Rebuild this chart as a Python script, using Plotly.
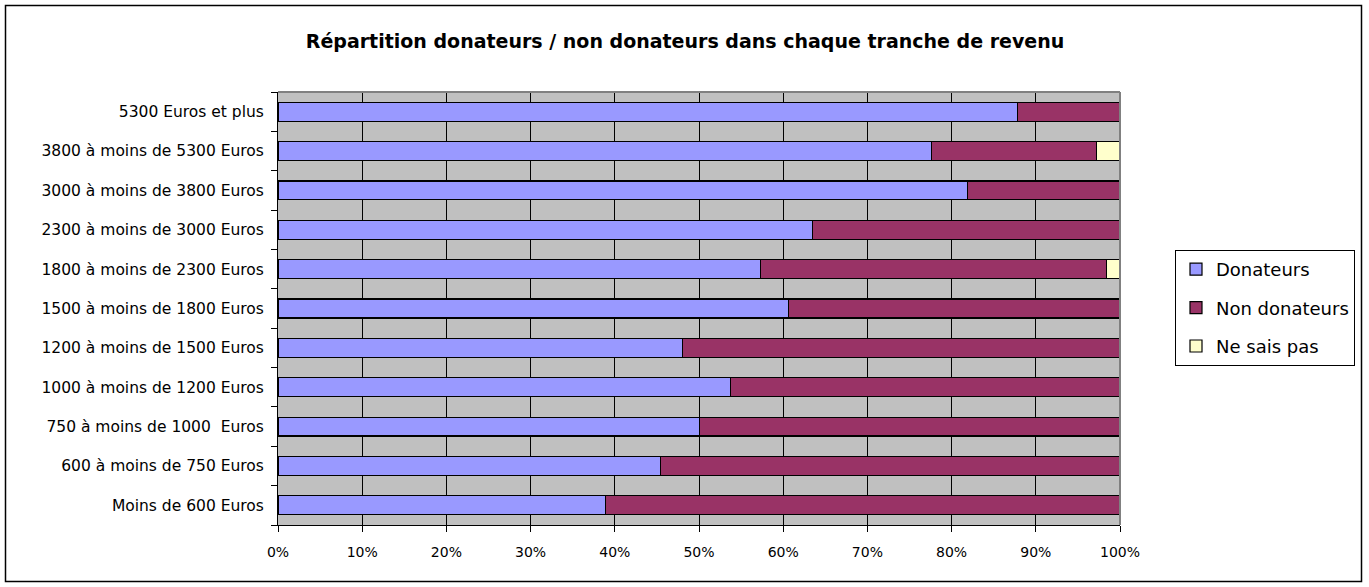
import plotly.graph_objects as go

categories = [
    "Moins de 600 Euros",
    "600 à moins de 750 Euros",
    "750 à moins de 1000  Euros",
    "1000 à moins de 1200 Euros",
    "1200 à moins de 1500 Euros",
    "1500 à moins de 1800 Euros",
    "1800 à moins de 2300 Euros",
    "2300 à moins de 3000 Euros",
    "3000 à moins de 3800 Euros",
    "3800 à moins de 5300 Euros",
    "5300 Euros et plus",
]
donateurs = [38.9, 45.4, 50.1, 53.7, 48.0, 60.6, 57.3, 63.5, 81.9, 77.6, 87.8]
ne_sais_pas = [0, 0, 0, 0, 0, 0, 1.6, 0, 0, 2.8, 0]
non_donateurs = [round(100 - d - n, 1) for d, n in zip(donateurs, ne_sais_pas)]

series = [
    ("Donateurs", donateurs, "#9999FF"),
    ("Non donateurs", non_donateurs, "#993366"),
    ("Ne sais pas", ne_sais_pas, "#FFFFCC"),
]

fig = go.Figure()
for name, vals, col in series:
    fig.add_trace(go.Bar(
        y=categories, x=vals, name=name, orientation="h", legendgroup=name,
        marker=dict(color=col, line=dict(color="black", width=1.2)),
    ))

W, H = 1369, 587
L, R, T, B = 278, 1120, 92, 525
pw, ph = R - L, B - T

def px(x):
    return (x - L) / pw

def py(y):
    return (B - y) / ph

FONT = "DejaVu Sans, Arial, sans-serif"

fig.update_layout(
    width=W, height=H,
    barmode="stack", bargap=0.52,
    paper_bgcolor="white", plot_bgcolor="#C0C0C0",
    margin=dict(l=L, r=W - R, t=T, b=H - B, pad=0),
    font=dict(family=FONT, color="black", size=15),
    showlegend=True,
    legend=dict(
        x=px(1175), y=py(250), xanchor="left", yanchor="top",
        bordercolor="black", borderwidth=1, bgcolor="white",
        font=dict(size=18), tracegroupgap=12, traceorder="grouped",
        itemwidth=30,
    ),
    title=dict(
        text="<b>Répartition donateurs / non donateurs dans chaque tranche de revenu</b>",
        x=685 / W, xanchor="center", y=1 - 41 / H, yanchor="middle",
        font=dict(size=19, family=FONT),
    ),
    xaxis=dict(
        range=[0, 100], tickvals=list(range(0, 101, 10)),
        ticktext=[f"{v}%" for v in range(0, 101, 10)],
        showgrid=True, gridcolor="black", gridwidth=1,
        ticks="outside", ticklen=6, tickcolor="black",
        showline=True, linecolor="black", mirror=False,
        zeroline=False, tickfont=dict(size=14), fixedrange=True,
        ticklabelstandoff=8,
    ),
    yaxis=dict(
        categoryorder="array", categoryarray=categories,
        ticks="outside", ticklen=6, tickcolor="black", tickson="boundaries",
        showline=True, linecolor="black", showgrid=False,
        tickfont=dict(size=15.5), ticklabelstandoff=10, fixedrange=True,
    ),
    shapes=[
        dict(type="rect", xref="paper", yref="paper",
             x0=px(5.5), x1=px(1361.5), y0=py(581.5), y1=py(5.5),
             line=dict(color="black", width=1.5), fillcolor="rgba(0,0,0,0)", layer="below"),
        dict(type="line", xref="paper", yref="paper", x0=1, x1=1, y0=0, y1=1,
             line=dict(color="#808080", width=2)),
        dict(type="line", xref="paper", yref="paper", x0=0, x1=1, y0=1, y1=1,
             line=dict(color="#808080", width=2)),
    ],
)

fig.write_html(
    "out.html",
    config={"displayModeBar": False},
    post_script="document.body.style.margin='0';document.body.style.overflow='hidden';",
)
